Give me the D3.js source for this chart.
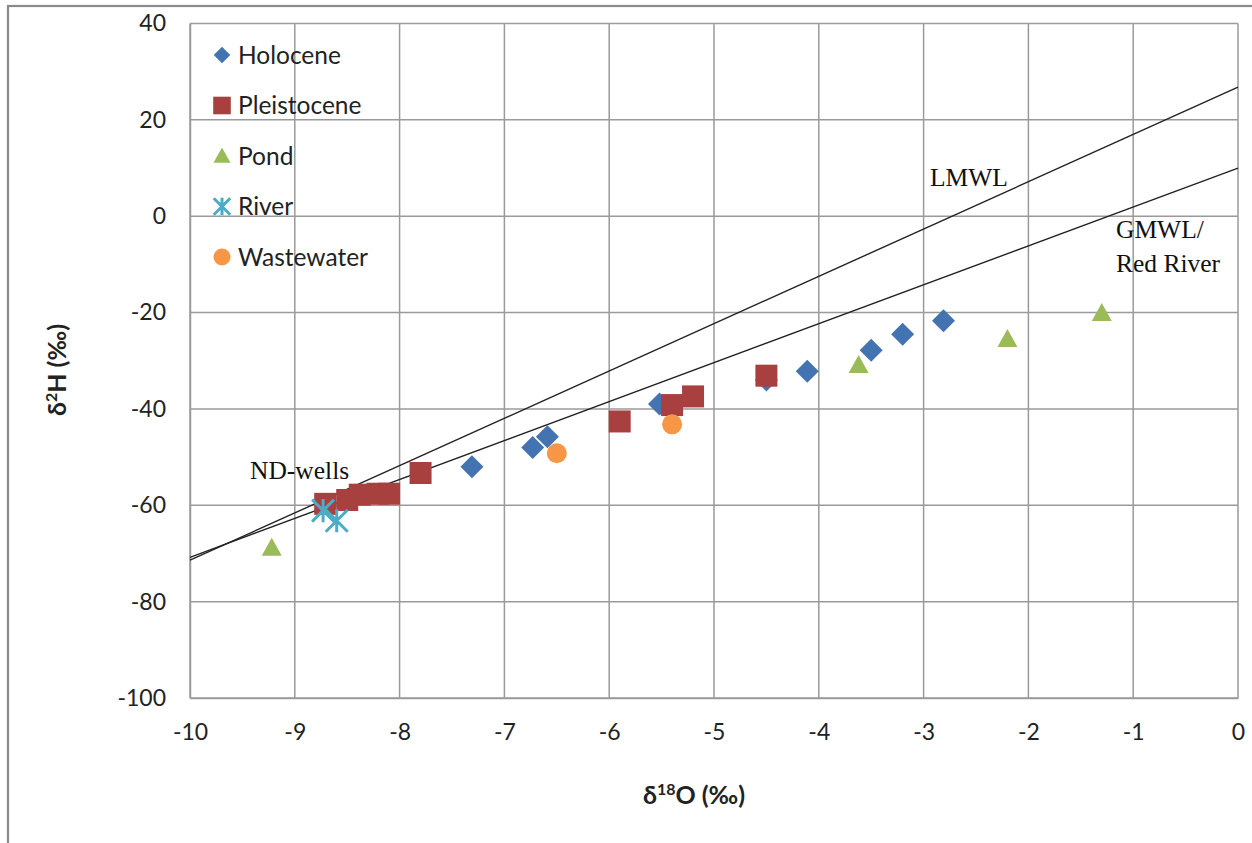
<!DOCTYPE html>
<html>
<head>
<meta charset="utf-8">
<script src="https://cdn.jsdelivr.net/npm/d3@7"></script>
<style>
  html, body { margin: 0; padding: 0; background: #fff; }
  svg { display: block; }
</style>
</head>
<body>
<svg id="chart" width="1252" height="843"></svg>
<script>
// Stable isotope data: δ18O (x) vs δ2H (y), per‰
const holoceneX = [-7.31, -6.73, -6.59, -5.52, -4.50, -4.11, -3.50, -3.20, -2.81];
const holoceneY = [-52.0, -48.0, -45.8, -39.0, -34.0, -32.2, -27.8, -24.5, -21.7];

const pleistoceneX = [-8.71, -8.50, -8.38, -8.21, -8.10, -7.80, -5.90, -5.40, -5.20, -4.50];
const pleistoceneY = [-59.7, -58.9, -57.8, -57.6, -57.6, -53.3, -42.6, -39.2, -37.4, -33.1];

const pondX = [-9.22, -3.62, -2.20, -1.30];
const pondY = [-68.8, -30.9, -25.5, -20.1];

const riverX = [-8.73, -8.60];
const riverY = [-61.1, -63.2];

const wastewaterX = [-6.50, -5.40];
const wastewaterY = [-49.2, -43.2];

// Meteoric water lines: δ2H = slope * δ18O + intercept
const lineNames = ["LMWL", "GMWL"];
const lineSlopes = [9.82, 8.08];
const lineIntercepts = [26.8, 10.0];

const xTicks = [-10, -9, -8, -7, -6, -5, -4, -3, -2, -1, 0];
const yTicks = [-100, -80, -60, -40, -20, 0, 20, 40];

const seriesNames = ["Holocene", "Pleistocene", "Pond", "River", "Wastewater"];
const seriesColors = ["#4373B0", "#A8403F", "#9BBB59", "#4BACC6", "#F79646"];

const series = [
  { name: seriesNames[0], xs: holoceneX, ys: holoceneY, shape: "diamond", color: seriesColors[0] },
  { name: seriesNames[1], xs: pleistoceneX, ys: pleistoceneY, shape: "square", color: seriesColors[1] },
  { name: seriesNames[2], xs: pondX, ys: pondY, shape: "triangle", color: seriesColors[2] },
  { name: seriesNames[3], xs: riverX, ys: riverY, shape: "asterisk", color: seriesColors[3] },
  { name: seriesNames[4], xs: wastewaterX, ys: wastewaterY, shape: "circle", color: seriesColors[4] }
];

const svg = d3.select("#chart");
const W = 1252, H = 843;
const plot = { left: 190, right: 1238, top: 23.5, bottom: 698 };

const x = d3.scaleLinear().domain([-10, 0]).range([plot.left, plot.right]);
const y = d3.scaleLinear().domain([-100, 40]).range([plot.bottom, plot.top]);

// outer frame
svg.append("rect")
  .attr("x", 8).attr("y", 6).attr("width", W + 20).attr("height", H + 20)
  .attr("fill", "none").attr("stroke", "#8a8a8a").attr("stroke-width", 2.2);

// gridlines
const grid = svg.append("g");
grid.selectAll("line.v").data(xTicks).join("line")
  .attr("x1", d => x(d)).attr("x2", d => x(d))
  .attr("y1", plot.top).attr("y2", plot.bottom)
  .attr("stroke", "#9a9a9a").attr("stroke-width", 1.5);
grid.selectAll("line.h").data(yTicks).join("line")
  .attr("x1", plot.left).attr("x2", plot.right)
  .attr("y1", d => y(d)).attr("y2", d => y(d))
  .attr("stroke", "#9a9a9a").attr("stroke-width", 1.5);

// axes (plain hyphen-minus in tick labels)
const tickFont = "Lato, 'Open Sans', sans-serif";
const plainFmt = d => String(d);
const yAxis = svg.append("g").attr("transform", `translate(${plot.left},0)`)
  .call(d3.axisLeft(y).tickValues(yTicks).tickSize(0).tickPadding(24).tickFormat(plainFmt));
const xAxis = svg.append("g").attr("transform", `translate(0,${plot.bottom})`)
  .call(d3.axisBottom(x).tickValues(xTicks).tickSize(0).tickPadding(26).tickFormat(plainFmt));
[xAxis, yAxis].forEach(a => {
  a.select(".domain").attr("stroke", "#9a9a9a").attr("stroke-width", 1.5);
  a.selectAll("text").attr("font-family", tickFont).attr("font-size", 23).attr("fill", "#222");
});

// meteoric water lines across the x domain
const lineGen = d3.line().x(d => x(d[0])).y(d => y(d[1]));
lineNames.forEach((n, i) => {
  const pts = x.domain().map(v => [v, lineSlopes[i] * v + lineIntercepts[i]]);
  svg.append("path").attr("d", lineGen(pts))
    .attr("fill", "none").attr("stroke", "#222").attr("stroke-width", 1.4);
});

// marker shapes
function drawMarker(g, shape, color, cx, cy, s) {
  if (shape === "diamond") {
    const r = 11.5 * s;
    g.append("path").attr("d", `M${cx},${cy - r}L${cx + r},${cy}L${cx},${cy + r}L${cx - r},${cy}Z`).attr("fill", color);
  } else if (shape === "square") {
    const h = 11 * s;
    g.append("rect").attr("x", cx - h).attr("y", cy - h).attr("width", 2 * h).attr("height", 2 * h).attr("fill", color);
  } else if (shape === "triangle") {
    const h = 10 * s;
    g.append("path").attr("d", `M${cx},${cy - h}L${cx + h},${cy + 0.8 * h}L${cx - h},${cy + 0.8 * h}Z`).attr("fill", color);
  } else if (shape === "circle") {
    g.append("circle").attr("cx", cx).attr("cy", cy).attr("r", 10 * s).attr("fill", color);
  } else if (shape === "asterisk") {
    const r = 11 * s;
    const p = `M${cx - r},${cy - r}L${cx + r},${cy + r}M${cx - r},${cy + r}L${cx + r},${cy - r}M${cx},${cy - r * 1.05}L${cx},${cy + r * 1.05}`;
    g.append("path").attr("d", p).attr("stroke", color).attr("stroke-width", 3).attr("fill", "none");
  }
}

const marks = svg.append("g");
series.forEach(sr => {
  const g = marks.append("g");
  sr.xs.forEach((v, i) => drawMarker(g, sr.shape, sr.color, x(v), y(sr.ys[i]), 1));
});

// legend
const legend = svg.append("g");
seriesNames.forEach((n, i) => {
  const ly = 55 + i * 50.5;
  const sr = series[i];
  const s = sr.shape === "diamond" ? 0.72 : sr.shape === "square" ? 0.8 : sr.shape === "asterisk" ? 0.75 : 0.85;
  drawMarker(legend, sr.shape, sr.color, 222, ly, s);
  legend.append("text").attr("x", 238).attr("y", ly).attr("dy", "0.36em")
    .attr("font-family", tickFont).attr("font-size", 24.5).attr("fill", "#222").text(n);
});

// axis titles
const xt = svg.append("text").attr("x", 694).attr("y", 804).attr("text-anchor", "middle")
  .attr("font-family", tickFont).attr("font-weight", "bold").attr("font-size", 25).attr("fill", "#222");
xt.append("tspan").text("δ");
xt.append("tspan").attr("font-size", 16).attr("dy", -9).text("18");
xt.append("tspan").attr("dy", 9).text("O (‰)");

const yt = svg.append("text").attr("transform", "translate(66,370) rotate(-90)").attr("text-anchor", "middle")
  .attr("font-family", tickFont).attr("font-weight", "bold").attr("font-size", 25).attr("fill", "#222");
yt.append("tspan").text("δ");
yt.append("tspan").attr("font-size", 16).attr("dy", -9).text("2");
yt.append("tspan").attr("dy", 9).text("H (‰)");

// line and group annotations
const serif = "'Liberation Serif', 'DejaVu Serif', serif";
const notes = [
  { t: "LMWL", x: 930, y: 186 },
  { t: "GMWL/", x: 1116, y: 238 },
  { t: "Red River", x: 1116, y: 272 },
  { t: "ND-wells", x: 250, y: 479 }
];
svg.append("g").selectAll("text").data(notes).join("text")
  .attr("x", d => d.x).attr("y", d => d.y)
  .attr("font-family", serif).attr("font-size", 25.5).attr("fill", "#111")
  .text(d => d.t);
</script>
</body>
</html>
